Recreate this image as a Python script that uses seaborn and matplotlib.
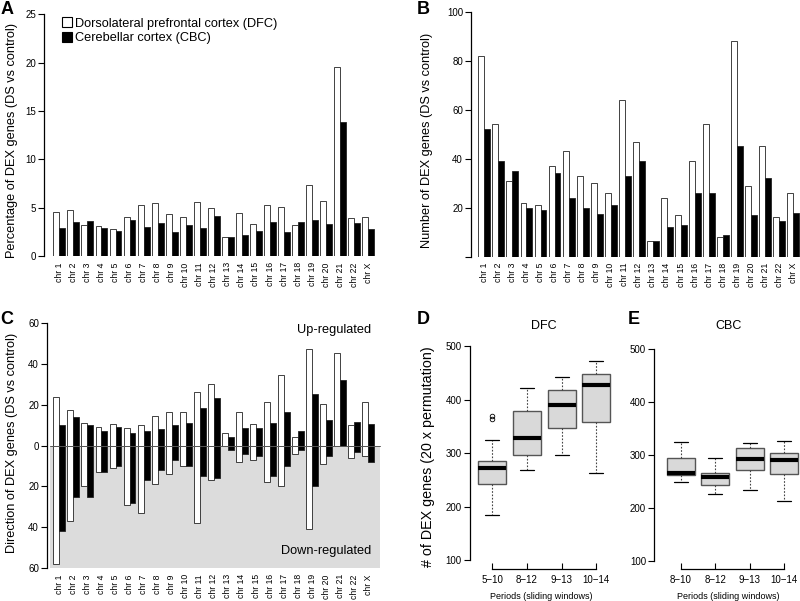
import matplotlib
matplotlib.use('Agg')
import matplotlib.pyplot as plt
from matplotlib.patches import Patch, Rectangle
import pandas as pd
import seaborn as sns

# chromosomes on the x axis of panels A-C
chroms = ['chr %d' % i for i in range(1, 23)] + ['chr X']

# A: percentage of DEX genes (DS vs control)
pct_dfc = [4.6, 4.8, 3.2, 3.15, 2.8, 4.0, 5.3, 5.5, 4.35, 4.0, 5.55, 5.0, 2.0,
           4.4, 3.3, 5.3, 5.1, 3.2, 7.3, 5.65, 19.5, 3.9, 4.0]
pct_cbc = [2.9, 3.5, 3.6, 2.9, 2.55, 3.7, 2.95, 3.4, 2.5, 3.2, 2.9, 4.15, 1.97,
           2.2, 2.55, 3.55, 2.45, 3.55, 3.7, 3.3, 13.9, 3.4, 2.8]

# B: number of DEX genes
num_dfc = [82, 54, 31, 22, 21, 37, 43, 33, 30, 26, 64, 47, 6.3,
           24, 17, 39, 54, 8, 88, 29, 45, 16, 26]
num_cbc = [52, 39, 35, 20, 19, 34, 24, 20, 17.6, 21, 33, 39, 6.3,
           12, 13, 26, 26, 9, 45, 17, 32, 14.6, 18]

# C: direction of DEX genes (up above zero, down below zero)
up_dfc = [24, 17.5, 11.3, 9.3, 10.5, 8.5, 10.3, 14.4, 16.3, 16.3, 26.3, 30, 6.2,
          16.3, 10.5, 21.2, 34.5, 4.2, 47.2, 20.3, 45.3, 10.1, 21.2]
down_dfc = [58, 37, 20, 13, 11, 29, 33, 19, 14, 10, 38, 17, 0,
            8, 7, 18, 20, 4, 41, 9, 0, 6, 5]
up_cbc = [10.3, 14.2, 10.1, 7.4, 9.3, 6.2, 7.4, 8.3, 10.1, 11.3, 18.3, 23.4, 4.2,
          8.5, 8.5, 11.3, 16.5, 7.4, 25.3, 12.4, 32.4, 11.4, 10.5]
down_cbc = [42, 25, 25, 13, 10, 28, 17, 12, 7, 10, 15, 16, 2,
            4, 5, 15, 10, 2, 20, 5, 0, 3, 8]

# D: DFC permutation boxes
dfc_periods = ['5\u221210', '8\u221212', '9\u221213', '10\u221214']
dfc_whislo = [185, 268, 296, 263]
dfc_q1 = [242, 297, 346, 358]
dfc_med = [273, 328, 390, 427]
dfc_q3 = [286, 379, 417, 447]
dfc_whishi = [325, 421, 442, 473]
dfc_fliers = [[363, 370], [], [], []]

# E: CBC permutation boxes
cbc_periods = ['8\u221210', '8\u221212', '9\u221213', '10\u221214']
cbc_whislo = [248, 226, 233, 212]
cbc_q1 = [261, 243, 272, 264]
cbc_med = [266, 258, 292, 290]
cbc_q3 = [294, 265, 312, 304]
cbc_whishi = [324, 294, 323, 327]
cbc_fliers = [[], [], [], []]

sns.set_style('ticks')
plt.rcParams['font.family'] = ['Liberation Sans', 'DejaVu Sans']
plt.rcParams['axes.edgecolor'] = 'black'
plt.rcParams['xtick.color'] = 'black'
plt.rcParams['ytick.color'] = 'black'
plt.rcParams['text.color'] = 'black'

W, H = 800, 601
fig = plt.figure(figsize=(W / 100, H / 100), dpi=100)


def px_axes(x0, y0, x1, y1):
    return fig.add_axes([x0 / W, 1 - y1 / H, (x1 - x0) / W, (y1 - y0) / H])


def ftext(x, y, s, **kw):
    fig.text(x / W, 1 - y / H, s, **kw)


def long_df(a, b):
    return pd.DataFrame({'chr': chroms * 2,
                         'value': list(a) + list(b),
                         'region': ['DFC'] * len(a) + ['CBC'] * len(b)})


def bars(ax, a, b):
    sns.barplot(data=long_df(a, b), x='chr', y='value', hue='region',
                order=chroms, hue_order=['DFC', 'CBC'],
                palette=['white', 'black'], saturation=1, width=0.84,
                edgecolor='#222222', linewidth=0.6, errorbar=None,
                legend=False, ax=ax)


def chr_axis(ax, x0, x1, c0, pitch=14.05):
    ax.set_xlim((x0 - c0) / pitch, (x1 - c0) / pitch)
    ax.set_xlabel('')
    ax.set_ylabel('')
    sns.despine(ax=ax, bottom=True)
    ax.tick_params(axis='x', length=0, pad=4.5, labelsize=6.2, labelrotation=90)
    ax.tick_params(axis='y', length=4, width=0.8, pad=1.5, labelsize=7)
    ax.spines['left'].set_linewidth(0.9)
    ax.patch.set_alpha(0)


# ---- A ----
axA = px_axes(44, 14.3, 384, 256)
bars(axA, pct_dfc, pct_cbc)
chr_axis(axA, 44, 384, 59.3)
axA.set_ylim(0, 25)
axA.set_yticks([0, 5, 10, 15, 20, 25])
axA.spines['left'].set_bounds(0, 25)
handles = [Patch(facecolor='white', edgecolor='black', linewidth=0.8),
           Patch(facecolor='black', edgecolor='black', linewidth=0.8)]
axA.legend(handles, ['Dorsolateral prefrontal cortex (DFC)', 'Cerebellar cortex (CBC)'],
           loc='upper left', bbox_to_anchor=(62 / W, 1 - 17.5 / H),
           bbox_transform=fig.transFigure, frameon=False, fontsize=9.2,
           handlelength=0.8, handleheight=0.8, handletextpad=0.25,
           labelspacing=0.15, borderpad=0, borderaxespad=0)
ftext(12.3, 140, 'Percentage of DEX genes (DS vs control)', rotation=90,
      ha='center', va='center', fontsize=9.2)

# ---- B ----
axB = px_axes(470.7, 11.7, 800, 256.7)
bars(axB, num_dfc, num_cbc)
chr_axis(axB, 470.7, 800, 484.3)
axB.set_ylim(0, 100)
axB.set_yticks([0, 20, 40, 60, 80, 100])
axB.set_yticklabels(['', '20', '40', '60', '80', '100'])
axB.spines['left'].set_bounds(0, 100)
ftext(426.7, 140, 'Number of DEX genes (DS vs control)', rotation=90,
      ha='center', va='center', fontsize=9.2)

# ---- C ----
axC = px_axes(46.7, 323.3, 384, 568)
gx0, gx1 = (50 - 59.3) / 14.05, (380 - 59.3) / 14.05
axC.add_patch(Rectangle((gx0, -60), gx1 - gx0, 60, facecolor='#dcdcdc',
                        edgecolor='none', zorder=0))
bars(axC, up_dfc, up_cbc)
bars(axC, [-v for v in down_dfc], [-v for v in down_cbc])
axC.plot([gx0, gx1], [0, 0], color='#555555', lw=0.7, zorder=5)
chr_axis(axC, 46.7, 384, 59.3)
axC.set_ylim(-60, 60)
axC.set_yticks([-60, -40, -20, 0, 20, 40, 60])
axC.set_yticklabels(['60', '40', '20', '0', '20', '40', '60'])
axC.spines['left'].set_bounds(-60, 60)
ftext(12.3, 442.5, 'Direction of DEX genes (DS vs control)', rotation=90,
      ha='center', va='center', fontsize=9.2)
ftext(371, 332.7, 'Up-regulated', ha='right', va='baseline', fontsize=9.2)
ftext(371, 554.3, 'Down-regulated', ha='right', va='baseline', fontsize=9.2)


# ---- D / E ----
def boxes(ax, periods, lo, q1, med, q3, hi, fliers):
    stats = [dict(whislo=a, q1=b, med=c, q3=d, whishi=e, fliers=f, label=p)
             for p, a, b, c, d, e, f in zip(periods, lo, q1, med, q3, hi, fliers)]
    ax.bxp(stats, positions=[1, 2, 3, 4], widths=0.8, capwidths=0.4,
           patch_artist=True, showfliers=True,
           boxprops=dict(facecolor='#d9d9d9', edgecolor='#555555', linewidth=1.0),
           medianprops=dict(color='black', linewidth=3, solid_capstyle='butt'),
           whiskerprops=dict(color='#444444', linewidth=0.8, linestyle=(0, (1.5, 1.5))),
           capprops=dict(color='black', linewidth=0.9),
           flierprops=dict(marker='o', markerfacecolor='none', markeredgecolor='black',
                           markersize=3.3, markeredgewidth=0.6))
    sns.despine(ax=ax)
    ax.set_yticks([100, 200, 300, 400, 500])
    ax.spines['left'].set_bounds(100, 500)
    ax.spines['bottom'].set_bounds(1, 4)
    ax.spines['left'].set_linewidth(0.9)
    ax.spines['bottom'].set_linewidth(0.9)
    ax.tick_params(axis='y', length=4.5, width=0.8, pad=1.5, labelsize=7)
    ax.tick_params(axis='x', direction='in', length=4, width=0.8, pad=4.5, labelsize=7)
    ax.patch.set_alpha(0)


axD = px_axes(470, 337.5, 620.5, 568.7)
boxes(axD, dfc_periods, dfc_whislo, dfc_q1, dfc_med, dfc_q3, dfc_whishi, dfc_fliers)
axD.set_ylim(84, 516)
axD.set_xlim(1 + (470 - 492) / 34.8, 1 + (620.5 - 492) / 34.8)

axE = px_axes(654.3, 340.5, 800, 569.2)
boxes(axE, cbc_periods, cbc_whislo, cbc_q1, cbc_med, cbc_q3, cbc_whishi, cbc_fliers)
axE.set_ylim(84, 516)
axE.set_xlim(1 + (654.3 - 680.7) / 34.5, 1 + (800 - 680.7) / 34.5)

ftext(543.8, 329.3, 'DFC', ha='center', va='baseline', fontsize=9)
ftext(728.3, 329.3, 'CBC', ha='center', va='baseline', fontsize=9)
ftext(541.7, 599, 'Periods (sliding windows)', ha='center', va='baseline', fontsize=6.5)
ftext(728.7, 599, 'Periods (sliding windows)', ha='center', va='baseline', fontsize=6.5)
ftext(428.3, 456.7, '# of DEX genes (20 x permutation)', rotation=90,
      ha='center', va='center', fontsize=10.3)

# panel letters
for letter, x, y in [('A', 0.5, 13.5), ('B', 416.5, 13.5), ('C', 0.5, 323.5),
                     ('D', 416.5, 324), ('E', 627.5, 324)]:
    ftext(x, y, letter, ha='left', va='baseline', fontsize=13, fontweight='bold')

fig.savefig('out.png', dpi=100)
